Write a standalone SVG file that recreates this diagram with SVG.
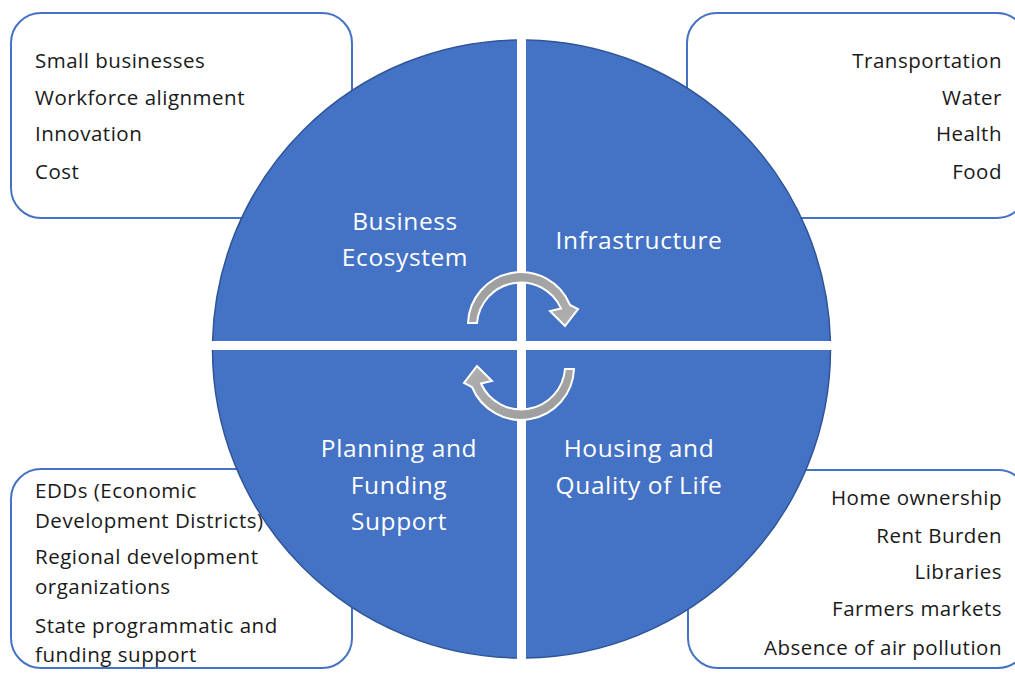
<svg xmlns="http://www.w3.org/2000/svg" width="1015" height="673" viewBox="0 0 1015 673">
<style>
.box{fill:#ffffff;stroke:#4472C4;stroke-width:2}
.q{fill:#4472C4}
.edge{fill:none;stroke:#2F5597;stroke-width:1.5}
.t{font-family:"Open Sans","Liberation Sans",sans-serif;font-size:20.5px;letter-spacing:0.5px;fill:#1a1a1a}
.r{text-anchor:end}
.ql{font-family:"Open Sans","Liberation Sans",sans-serif;font-size:24.5px;letter-spacing:0.6px;fill:#ffffff;text-anchor:middle}
.arrow{fill:url(#g);stroke:#ffffff;stroke-width:2;stroke-linejoin:miter}
</style>
<defs>
<linearGradient id="g" x1="0" y1="0" x2="1" y2="1">
<stop offset="0" stop-color="#9a9a9a"/>
<stop offset="1" stop-color="#b0b0b0"/>
</linearGradient>
</defs>
<rect width="1015" height="673" fill="#ffffff"/>

<g id="box-business">
<rect class="box" x="11" y="13" width="341" height="205" rx="30"/>
<text class="t" x="35" y="68">Small businesses</text>
<text class="t" x="35" y="105">Workforce alignment</text>
<text class="t" x="35" y="141">Innovation</text>
<text class="t" x="35" y="179">Cost</text>
</g>
<g id="box-infrastructure">
<rect class="box" x="687" y="13" width="340" height="205" rx="30"/>
<text class="t r" x="1002" y="68">Transportation</text>
<text class="t r" x="1002" y="105">Water</text>
<text class="t r" x="1002" y="141">Health</text>
<text class="t r" x="1002" y="179">Food</text>
</g>
<g id="box-planning">
<rect class="box" x="11" y="469" width="341" height="199" rx="30"/>
<text class="t" x="35" y="498">EDDs (Economic</text>
<text class="t" x="35" y="528">Development Districts)</text>
<text class="t" x="35" y="564">Regional development</text>
<text class="t" x="35" y="594">organizations</text>
<text class="t" x="35" y="633">State programmatic and</text>
<text class="t" x="35" y="662">funding support</text>
</g>
<g id="box-housing">
<rect class="box" x="688" y="470" width="340" height="198" rx="30"/>
<text class="t r" x="1002" y="505">Home ownership</text>
<text class="t r" x="1002" y="543">Rent Burden</text>
<text class="t r" x="1002" y="579">Libraries</text>
<text class="t r" x="1002" y="616">Farmers markets</text>
<text class="t r" x="1002" y="655">Absence of air pollution</text>
</g>

<g id="q-business">
<path class="q" d="M517,341 L517,40 A309,309 0 0 0 212.6,341 Z"/>
<path class="edge" d="M517,40 A309,309 0 0 0 212.6,341"/>
<text class="ql" x="405" y="230">Business</text>
<text class="ql" x="405" y="266">Ecosystem</text>
</g>
<g id="q-infrastructure">
<path class="q" d="M526,341 L526,40 A309,309 0 0 1 830.4,341 Z"/>
<path class="edge" d="M526,40 A309,309 0 0 1 830.4,341"/>
<text class="ql" x="639" y="249">Infrastructure</text>
</g>
<g id="q-planning">
<path class="q" d="M517,350 L212.5,350 A309,309 0 0 0 517,658 Z"/>
<path class="edge" d="M212.5,350 A309,309 0 0 0 517,658"/>
<text class="ql" x="399" y="457">Planning and</text>
<text class="ql" x="399" y="494">Funding</text>
<text class="ql" x="399" y="530">Support</text>
</g>
<g id="q-housing">
<path class="q" d="M526,350 L526,658 A309,309 0 0 0 830.5,350 Z"/>
<path class="edge" d="M526,658 A309,309 0 0 0 830.5,350"/>
<text class="ql" x="639" y="457">Housing and</text>
<text class="ql" x="639" y="494">Quality of Life</text>
</g>

<g id="connectors">
<path id="arrow-top" class="arrow" d="M468,323 A53,53 0 0 1 570,305 L578,309 L565,326 L550,311 L561,308.5 A44,44 0 0 0 477,323 Z"/>
<path id="arrow-bottom" class="arrow" transform="rotate(180 521 346)" d="M468,323 A53,53 0 0 1 570,305 L578,309 L565,326 L550,311 L561,308.5 A44,44 0 0 0 477,323 Z"/>
</g>
</svg>
